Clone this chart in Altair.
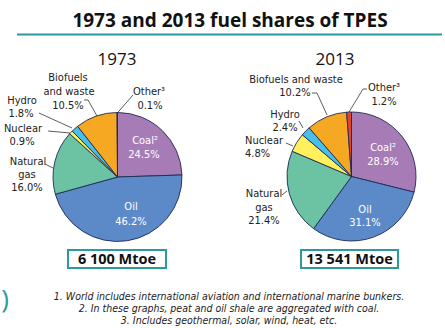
import altair as alt
import pandas as pd

# ---- data ----
fuels = ["Coal", "Oil", "Natural gas", "Nuclear", "Hydro", "Biofuels and waste", "Other"]
share_1973 = [24.5, 46.2, 16.0, 0.9, 1.8, 10.5, 0.1]
share_2013 = [28.9, 31.1, 21.4, 4.8, 2.4, 10.2, 1.2]
years = [1973, 2013]
totals = ["6 100 Mtoe", "13 541 Mtoe"]
footnotes = [
    "1. World includes international aviation and international marine bunkers.",
    "2. In these graphs, peat and oil shale are aggregated with coal.",
    "3. Includes geothermal, solar, wind, heat, etc.",
]
title_text = "1973 and 2013 fuel shares of TPES"

# ---- styles ----
colors = ["#A77CB6", "#5C8AC9", "#6CC3A3", "#FFF05C", "#48BFE9", "#F6A823", "#E0452E"]
TEAL = "#2A9A9C"
EDGE = "#1E2A55"
LABEL_FONT = "DejaVu Sans Condensed"
MAIN_FONT = "Open Sans"

rows = []
for yr, shares in zip(years, [share_1973, share_2013]):
    for i, (f, s) in enumerate(zip(fuels, shares)):
        rows.append({"year": yr, "fuel": f, "share": s, "idx": i})
pie_df = pd.DataFrame(rows)

# pie layout (center/radius in pixels)
centers = {1973: (117.5, 177), 2013: (351.5, 176.5)}
RADIUS = 64.5

def pie(yr):
    cx, cy = centers[yr]
    return (
        alt.Chart(pie_df)
        .transform_filter(alt.datum.year == yr)
        .mark_arc(outerRadius=RADIUS, stroke=EDGE, strokeWidth=0.9)
        .encode(
            theta=alt.Theta("share:Q", stack=True),
            order=alt.Order("idx:Q"),
            color=alt.Color("fuel:N", scale=alt.Scale(domain=fuels, range=colors), legend=None),
            x=alt.value(cx),
            y=alt.value(cy),
        )
    )

def pct(v):
    return f"{v:.1f}%"

s73 = dict(zip(fuels, share_1973))
s13 = dict(zip(fuels, share_2013))
# label lines for the pies: (x, y, text, color, align)
label_rows = [
    # 1973
    (68, 78, "Biofuels", "#222", "center"),
    (69, 92, "and waste", "#222", "center"),
    (68, 106, pct(s73["Biofuels and waste"]), "#222", "center"),
    (149, 92, "Other³", "#222", "center"),
    (150, 106, pct(s73["Other"]), "#222", "center"),
    (22, 101, "Hydro", "#222", "center"),
    (21, 114, pct(s73["Hydro"]), "#222", "center"),
    (23, 129, "Nuclear", "#222", "center"),
    (22, 142, pct(s73["Nuclear"]), "#222", "center"),
    (28, 162, "Natural", "#222", "center"),
    (27, 175, "gas", "#222", "center"),
    (27, 188, pct(s73["Natural gas"]), "#222", "center"),
    (145, 141, "Coal²", "white", "center"),
    (144, 155, pct(s73["Coal"]), "white", "center"),
    (131, 207, "Oil", "white", "center"),
    (131, 222, pct(s73["Oil"]), "white", "center"),
    # 2013
    (296, 80, "Biofuels and waste", "#222", "center"),
    (295, 93, pct(s13["Biofuels and waste"]), "#222", "center"),
    (384, 88, "Other³", "#222", "center"),
    (384, 102, pct(s13["Other"]), "#222", "center"),
    (285, 115, "Hydro", "#222", "center"),
    (285, 128, pct(s13["Hydro"]), "#222", "center"),
    (245, 141, "Nuclear", "#222", "left"),
    (245, 154, pct(s13["Nuclear"]), "#222", "left"),
    (264, 194, "Natural", "#222", "center"),
    (264, 208, "gas", "#222", "center"),
    (264, 221, pct(s13["Natural gas"]), "#222", "center"),
    (383, 148, "Coal²", "white", "center"),
    (383, 162, pct(s13["Coal"]), "white", "center"),
    (365, 210, "Oil", "white", "center"),
    (365, 223, pct(s13["Oil"]), "white", "center"),
]
lab_df = pd.DataFrame(label_rows, columns=["x", "y", "text", "c", "align"])

def labels(align):
    return (
        alt.Chart(lab_df)
        .transform_filter(alt.datum.align == align)
        .mark_text(font=LABEL_FONT, fontSize=11, align=align, baseline="middle")
        .encode(
            x=alt.X("x:Q", scale=None),
            y=alt.Y("y:Q", scale=None),
            text="text:N",
            color=alt.Color("c:N", scale=None),
        )
    )

# leader lines (annotation layout)
leader_rows = [
    # 1973
    (133, 95, 117.5, 112.8),
    (84, 100, 88, 100),
    (88, 100, 97, 116),
    (39, 113, 72, 128),
    (48, 131, 70, 133),
    (45, 164, 53, 168),
    # 2013
    (367, 89, 363, 89),
    (363, 89, 349, 112),
    (312, 93, 317, 93),
    (317, 93, 327, 115),
    (299, 121, 303, 128),
    (286, 143, 293, 146),
    (282, 195, 287, 191),
]
lead_df = pd.DataFrame(leader_rows, columns=["x", "y", "x2", "y2"])
leaders = alt.Chart(lead_df).mark_rule(color="#333", strokeWidth=0.8).encode(
    x=alt.X("x:Q", scale=None), y=alt.Y("y:Q", scale=None),
    x2="x2:Q", y2="y2:Q",
)

# title and decorations
title = alt.Chart(pd.DataFrame({"t": [title_text]})).mark_text(
    font=MAIN_FONT, fontSize=19, fontWeight="bold", color="#111", align="center", baseline="alphabetic"
).encode(x=alt.value(230), y=alt.value(26.5), text="t:N")

title_rule = alt.Chart(pd.DataFrame({"a": [0]})).mark_rule(color=TEAL, strokeWidth=2).encode(
    x=alt.value(17), x2=alt.value(442), y=alt.value(34.5)
)

sub_df = pd.DataFrame({"year": [str(y) for y in years], "x": [117, 335]})
subtitles = alt.Chart(sub_df).mark_text(
    font=MAIN_FONT, fontSize=17, color="#111", align="center", baseline="alphabetic"
).encode(x=alt.X("x:Q", scale=None), y=alt.value(65), text="year:N")

box_df = pd.DataFrame({"t": totals, "x": [68, 301], "x2": [166, 398]})
boxes = alt.Chart(box_df).mark_rect(fill="white", stroke=TEAL, strokeWidth=2).encode(
    x=alt.X("x:Q", scale=None), x2="x2:Q", y=alt.value(250), y2=alt.value(268)
)
box_text = alt.Chart(box_df).transform_calculate(cx="(datum.x + datum.x2) / 2").mark_text(
    font=MAIN_FONT, fontSize=14.5, fontWeight="bold", color="#111", align="center", baseline="middle"
).encode(x=alt.X("cx:Q", scale=None), y=alt.value(259.5), text="t:N")

foot_df = pd.DataFrame({"t": footnotes, "y": [297, 309, 321]})
foot = alt.Chart(foot_df).mark_text(
    font=LABEL_FONT, fontSize=10.5, fontStyle="italic", color="#222", align="center", baseline="middle"
).encode(x=alt.value(229), y=alt.Y("y:Q", scale=None), text="t:N")

paren = alt.Chart(pd.DataFrame({"t": [")"]})).mark_text(
    font=MAIN_FONT, fontSize=26, color=TEAL, align="center", baseline="middle"
).encode(x=alt.value(5), y=alt.value(300), text="t:N")

chart = alt.layer(
    title_rule, title, subtitles,
    pie(1973), pie(2013),
    leaders, labels("center"), labels("left"),
    boxes, box_text, foot, paren,
).properties(
    width=445, height=328, padding=0, autosize=alt.AutoSizeParams(type="none"), background="white"
).configure_view(stroke=None)

chart.save("out.html", embed_options={"renderer": "svg", "actions": False})
